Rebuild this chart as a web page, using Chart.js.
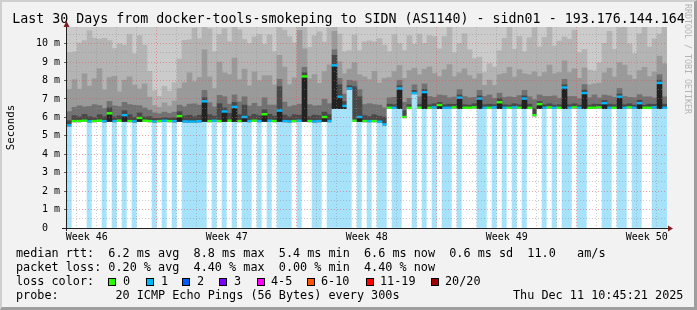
<!DOCTYPE html>
<html>
<head>
<meta charset="utf-8">
<script src="https://cdn.jsdelivr.net/npm/chart.js@4.4.1/dist/chart.umd.min.js"></script>
<style>
  body { margin: 0; background: #f2f2f2; }
  #wrap { position: relative; width: 697px; height: 310px; background: #f2f2f2; overflow: hidden;
          font-family: 'DejaVu Sans Mono', monospace; color: #000; }
  #wrap canvas { position: absolute; left: 0; top: 0; }
  .frame { position: absolute; left: 0; top: 0; width: 697px; height: 310px; box-sizing: border-box;
           border-style: solid; border-width: 2px 3px 3px 2px;
           border-color: #cfcfcf #9e9e9e #9e9e9e #cfcfcf; pointer-events: none; }
  .t { position: absolute; white-space: pre; line-height: 1; }
  .lg { font-size: 11.8px; left: 16px; }
  .box { position: absolute; top: 278px; width: 6px; height: 6px; border: 1px solid #000; }
</style>
</head>
<body>
<div id="wrap">
  <canvas id="smoke" width="697" height="310"></canvas>
  <div class="frame"></div>
  <div class="t" style="left:0;width:697px;text-align:center;top:12px;font-size:13.3px">Last 30 Days from docker-tools-smokeping to SIDN (AS1140) - sidn01 - 193.176.144.164</div>
  <div class="t" style="left:-29px;top:122px;width:80px;text-align:center;font-size:10.8px;line-height:10.8px;transform:rotate(-90deg)">Seconds</div>
  <div class="t" style="left:684px;top:4px;font-size:8.3px;line-height:8.3px;writing-mode:vertical-rl;color:#b4b4b4">RRDTOOL / TOBI OETIKER</div>

  <div class="t lg" style="top:248.3px">median rtt:  6.2 ms avg  8.8 ms max  5.4 ms min  6.6 ms now  0.6 ms sd  11.0   am/s</div>
  <div class="t lg" style="top:262.3px">packet loss: 0.20 % avg  4.40 % max  0.00 % min  4.40 % now</div>
  <div class="t lg" style="top:276.4px">loss color:</div>
  <div class="box" style="left:108px;background:#26ff00"></div><div class="t lg" style="top:276.4px;left:123px">0</div>
  <div class="box" style="left:146px;background:#00b8ff"></div><div class="t lg" style="top:276.4px;left:161px">1</div>
  <div class="box" style="left:182px;background:#0059ff"></div><div class="t lg" style="top:276.4px;left:197px">2</div>
  <div class="box" style="left:219px;background:#7e00ff"></div><div class="t lg" style="top:276.4px;left:234px">3</div>
  <div class="box" style="left:257px;background:#ff00ff"></div><div class="t lg" style="top:276.4px;left:271px">4-5</div>
  <div class="box" style="left:307px;background:#ff5500"></div><div class="t lg" style="top:276.4px;left:321px">6-10</div>
  <div class="box" style="left:366px;background:#ff0000"></div><div class="t lg" style="top:276.4px;left:380px">11-19</div>
  <div class="box" style="left:431px;background:#a10000"></div><div class="t lg" style="top:276.4px;left:445px">20/20</div>
  <div class="t lg" style="top:290.3px">probe:        20 ICMP Echo Pings (56 Bytes) every 300s</div>
  <div class="t lg" style="top:290.3px;left:513px">Thu Dec 11 10:45:21 2025</div>
</div>

<script>
// x axis: days since graph start, 120 bins of 6 hours
const weekLabels = ['Week 46', 'Week 47', 'Week 48', 'Week 49', 'Week 50'];
const weekCenters = [0.985, 7.985, 14.985, 21.985, 28.985];
const firstDayLine = 0.485;
const yTop = 10.9; // ms

// median rtt per bin (ms)
const medianRtt = [
  5.55,5.78,5.78,5.8,5.76,5.78,5.8,5.77,6.2,5.78,5.8,6.1,5.78,5.76,5.95,5.8,5.78,5.76,5.78,5.8,
  5.78,5.77,6.05,5.76,5.75,5.75,5.77,6.85,5.78,5.8,5.78,6.3,5.8,6.55,5.78,6.0,5.78,5.8,5.78,6.15,
  5.8,5.78,6.35,5.78,5.76,5.78,5.8,8.2,5.78,5.76,5.78,6.0,5.78,8.8,7.1,6.6,7.55,5.8,6.0,5.78,
  5.78,5.78,5.75,5.6,6.5,6.5,7.55,6.0,6.5,7.3,6.5,7.35,6.5,6.52,6.65,6.5,6.5,6.52,7.05,6.5,
  6.5,6.52,7.0,6.5,6.5,6.52,6.8,6.5,6.5,6.52,6.5,7.0,6.5,6.1,6.7,6.5,6.52,6.5,6.5,7.6,
  6.5,6.52,6.5,7.3,6.5,6.5,6.52,6.75,6.5,6.5,7.1,6.5,6.52,6.5,6.75,6.5,6.5,6.52,7.85,6.5
];

// lost pings per bin (of 20)
const lossBins = [
  1,0,0,0,1,0,0,1,0,1, 0,1,0,1,0,0,0,1,0,1,
  0,1,0,1,1,1,1,1,0,1, 0,1,0,1,0,1,1,0,1,0,
  1,0,1,1,1,0,1,0,0,1, 1,0,1,1,1,1,1,0,1,0,
  1,0,1,1,0,1,1,0,0,1, 0,1,0,1,0,1,1,0,1,0,
  0,0,1,1,0,1,0,1,0,1, 0,1,0,0,0,1,0,1,0,1,
  1,0,1,1,0,0,0,1,1,0, 1,1,0,1,1,0,0,1,1,1
];

// smoke below the median (ms)
const smokeBelow = [
  0,0,0,0,0,0,0,0,0.4,0,0,0.3,0,0,0.15,0,0,0,0,0,
  0,0,0.25,0,0,0,0,1.05,0,0,0,0.5,0,0.75,0,0.2,0,0,0,0.35,
  0,0,0.55,0,0,0,0,2.4,0,0,0,0.2,0,2.3,0.6,0.1,0,0,0.2,0,
  0,0,0,0,0,0,1.05,0,0,0,0,0.85,0,0,0.15,0,0,0,0.55,0,
  0,0,0.5,0,0,0,0.3,0,0,0,0,0.5,0,0,0.2,0,0,0,0,1.1,
  0,0,0,0.8,0,0,0,0.25,0,0,0.6,0,0,0,0.25,0,0,0,1.35,0
];

// smoke bands above the median, densest first (ms)
const smoke1 = [
  0.2,0.25,0.18,0.3,0.22,0.15,0.28,0.2,0.25,0.18,0.22,0.2,0.3,0.18,0.22,0.15,0.2,0.12,0.1,0.12,
  0.12,0.15,0.2,0.25,0.3,0.22,0.28,0.15,0.3,0.2,0.9,0.15,0.35,0.2,0.3,0.6,0.22,0.3,0.25,0.2,
  0.3,0.22,1.25,0.28,0.2,0.3,0.25,0.15,0.2,0.3,0.25,0.22,0.3,0.5,0.6,0.2,0.1,1.8,1.05,0.25,
  0.2,0.3,0.25,0.35,0.15,0.12,0.1,0.3,0.12,0.1,0.15,0.1,0.12,0.15,0.1,0.12,0.15,0.12,0.1,0.12,
  0.1,0.15,0.1,0.12,0.15,0.1,0.15,0.12,0.1,0.15,0.12,0.1,0.15,0.3,0.1,0.12,0.15,0.1,0.12,0.1,
  0.12,0.15,0.1,0.12,0.1,0.15,0.12,0.1,0.15,0.12,0.1,0.12,0.15,0.1,0.12,0.1,0.15,0.12,0.1,0.15
];
const smoke2 = [
  0.5,0.45,0.6,0.4,0.55,0.7,0.5,0.45,0.35,0.6,0.5,0.45,0.55,0.65,0.4,0.5,0.35,0.3,0.25,0.3,
  0.25,0.3,0.35,0.5,0.6,0.7,0.55,0.4,0.65,0.5,0.45,0.6,0.5,0.4,0.7,0.45,0.55,0.6,0.5,0.65,
  0.5,0.6,0.4,0.7,0.55,0.5,0.6,0.3,0.65,0.5,0.55,0.7,0.6,0.3,0.35,0.4,0.3,0.3,0.4,0.6,
  0.7,0.55,0.6,0.5,0.35,0.4,0.3,0.45,0.35,0.3,0.4,0.3,0.45,0.35,0.4,0.5,0.35,0.4,0.3,0.45,
  0.4,0.35,0.3,0.45,0.5,0.35,0.3,0.4,0.45,0.35,0.5,0.3,0.4,0.5,0.35,0.45,0.4,0.5,0.35,0.3,
  0.45,0.4,0.35,0.3,0.4,0.5,0.35,0.3,0.45,0.4,0.3,0.45,0.35,0.4,0.3,0.45,0.4,0.35,0.3,0.4
];
const smoke3 = [
  1.2,1.5,0.9,1.8,1.1,1.4,2.0,1.0,1.3,1.6,0.8,1.2,1.5,1.1,0.9,1.3,0.7,0.4,0.35,0.5,
  0.4,0.6,0.9,1.3,1.7,1.2,1.5,2.2,1.4,1.0,1.8,1.3,1.6,2.0,1.2,1.5,1.1,1.7,1.4,1.2,
  1.6,1.1,1.3,1.9,1.2,1.5,4.0,1.0,1.4,1.7,1.2,1.5,2.1,1.0,0.9,1.1,0.6,1.0,0.8,1.5,
  1.3,1.8,1.2,1.6,1.1,1.4,0.8,1.3,1.5,0.9,1.2,0.8,1.6,1.3,1.0,1.4,1.8,1.1,0.9,1.5,
  1.2,1.0,0.9,0.6,0.8,0.7,1.0,1.3,1.6,1.1,1.4,0.9,1.2,1.5,1.0,1.3,1.7,1.2,1.4,1.0,
  1.3,1.5,1.1,0.9,0.7,0.6,0.8,1.2,1.5,1.1,1.4,1.7,1.2,1.0,1.3,1.6,1.1,1.4,1.0,1.8
];
const smoke4 = [
  2.0,1.5,2.5,1.8,3.0,2.2,1.6,2.8,2.0,1.5,2.6,1.9,2.3,1.7,2.9,2.1,1.4,0.8,0.6,0.9,
  0.8,1.0,1.6,2.3,1.8,2.9,2.1,1.7,2.6,2.0,1.5,2.4,1.8,2.2,2.7,1.6,2.3,1.9,2.5,1.7,
  2.2,1.8,1.5,2.0,2.6,1.9,1.0,2.4,1.7,2.1,2.8,1.6,2.0,1.0,1.5,1.2,1.0,1.5,1.3,1.9,
  2.1,1.6,2.4,1.8,1.4,2.0,1.2,1.5,1.9,1.3,2.2,1.4,1.7,2.0,1.5,1.8,2.2,1.3,1.6,1.9,
  1.4,1.1,0.9,0.7,0.9,1.0,1.3,1.9,2.3,1.5,1.8,1.2,2.0,2.4,1.6,1.9,2.1,1.5,1.7,1.3,
  1.8,2.1,1.4,1.0,0.8,0.7,1.1,1.6,2.0,1.5,1.9,2.2,1.7,1.4,2.0,2.3,1.6,1.8,1.2,2.0
];

const LINE_H = 0.065; // half thickness of the median line, in ms
const LOSS_LINE = ['#26ff00', '#00b8ff'];
const LOSS_BG = ['#ffffff', '#a6e3fa'];

const bins = medianRtt.map((_, i) => i);
const below = medianRtt.map((m, i) => m - smokeBelow[i] - LINE_H);
const lineBand = medianRtt.map(() => LINE_H * 2);
const above = medianRtt.map((m, i) =>
  Math.max(0, yTop - (m + LINE_H + smoke1[i] + smoke2[i] + smoke3[i] + smoke4[i])));

function layer(label, data, color) {
  return { label, data, xAxisID: 'x', backgroundColor: color, borderWidth: 0 };
}

const isMajorDay = v => Math.round(v - firstDayLine) % 7 === 4;

const axesPlugin = {
  id: 'axes',
  beforeDraw(chart) {
    const { ctx, chartArea: a } = chart;
    ctx.save();
    ctx.fillStyle = '#fff';
    ctx.fillRect(a.left, a.top, a.right - a.left, a.bottom - a.top);
    ctx.restore();
  },
  afterDraw(chart) {
    const { ctx, chartArea: a } = chart;
    ctx.save();
    ctx.strokeStyle = '#1f1f1f';
    ctx.lineWidth = 1;
    ctx.beginPath();
    ctx.moveTo(a.left - 5, a.bottom + 0.5);
    ctx.lineTo(a.right + 1, a.bottom + 0.5);
    ctx.moveTo(a.left - 0.5, a.bottom + 3);
    ctx.lineTo(a.left - 0.5, a.top - 1);
    ctx.stroke();
    ctx.fillStyle = '#801f1f';
    ctx.beginPath();
    ctx.moveTo(a.left - 0.5, a.top - 6);
    ctx.lineTo(a.left - 3.5, a.top);
    ctx.lineTo(a.left + 2.5, a.top);
    ctx.fill();
    ctx.beginPath();
    ctx.moveTo(a.right + 6, a.bottom + 0.5);
    ctx.lineTo(a.right + 1, a.bottom - 2.5);
    ctx.lineTo(a.right + 1, a.bottom + 3.5);
    ctx.fill();
    ctx.restore();
  }
};

new Chart(document.getElementById('smoke'), {
  type: 'bar',
  data: {
    labels: bins,
    datasets: [
      layer('loss background', below, lossBins.map(l => LOSS_BG[l])),
      layer('smoke below', smokeBelow, '#222222'),
      layer('median rtt', lineBand, lossBins.map(l => LOSS_LINE[l])),
      layer('smoke 1', smoke1, '#484848'),
      layer('smoke 2', smoke2, '#727272'),
      layer('smoke 3', smoke3, '#9a9a9a'),
      layer('smoke 4', smoke4, '#b4b4b4'),
      layer('smoke 5', above, '#cbcbcb')
    ]
  },
  options: {
    responsive: false,
    animation: false,
    events: [],
    categoryPercentage: 1,
    barPercentage: 1,
    layout: { padding: { top: 27, right: 30, bottom: 0, left: 0 } },
    plugins: { legend: { display: false }, tooltip: { enabled: false } },
    scales: {
      x: { type: 'category', display: false, stacked: true, offset: true },
      xg: {
        type: 'linear', position: 'bottom', min: 0, max: 30, offset: false,
        afterFit: s => { s.height = 82; },
        afterBuildTicks: s => {
          const t = [];
          for (let k = 0; firstDayLine + k < 30; k++) t.push({ value: firstDayLine + k });
          weekCenters.forEach(v => t.push({ value: v }));
          t.sort((p, q) => p.value - q.value);
          s.ticks = t;
        },
        ticks: {
          autoSkip: false, maxRotation: 0, padding: 3, color: '#000',
          font: { family: 'DejaVu Sans Mono', size: 10 },
          callback: v => {
            const k = weekCenters.indexOf(v);
            return k >= 0 ? weekLabels[k] : '';
          }
        },
        grid: {
          z: 1, offset: false, drawTicks: false, lineWidth: 1, borderDash: [1, 2],
          color: c => {
            if (!c.tick || weekCenters.includes(c.tick.value)) return 'rgba(0,0,0,0)';
            return isMajorDay(c.tick.value) ? 'rgba(222,79,79,0.5)' : 'rgba(143,143,143,0.45)';
          }
        },
        border: { display: false, dash: [1, 2] }
      },
      y: {
        stacked: true, min: 0, max: yTop,
        afterFit: s => { s.width = 67; },
        afterBuildTicks: s => {
          const t = [];
          for (let k = 0; k <= 21; k++) t.push({ value: k / 2 });
          s.ticks = t;
        },
        ticks: {
          autoSkip: false, padding: 4, color: '#000',
          font: { family: 'DejaVu Sans Mono', size: 10 },
          callback: v => Number.isInteger(v) ? (v === 0 ? '0  ' : v + ' m') : ''
        },
        grid: {
          z: 1, lineWidth: 1, tickLength: 3, borderDash: [1, 2],
          color: c => {
            if (!c.tick || c.tick.value === 0) return 'rgba(0,0,0,0)';
            return Number.isInteger(c.tick.value) ? 'rgba(222,79,79,0.5)' : 'rgba(143,143,143,0.45)';
          },
          tickColor: c => (c.tick && Number.isInteger(c.tick.value)) ? 'rgba(60,60,60,0.8)' : 'rgba(0,0,0,0)'
        },
        border: { display: false, dash: [1, 2] }
      }
    }
  },
  plugins: [axesPlugin]
});
</script>
</body>
</html>
